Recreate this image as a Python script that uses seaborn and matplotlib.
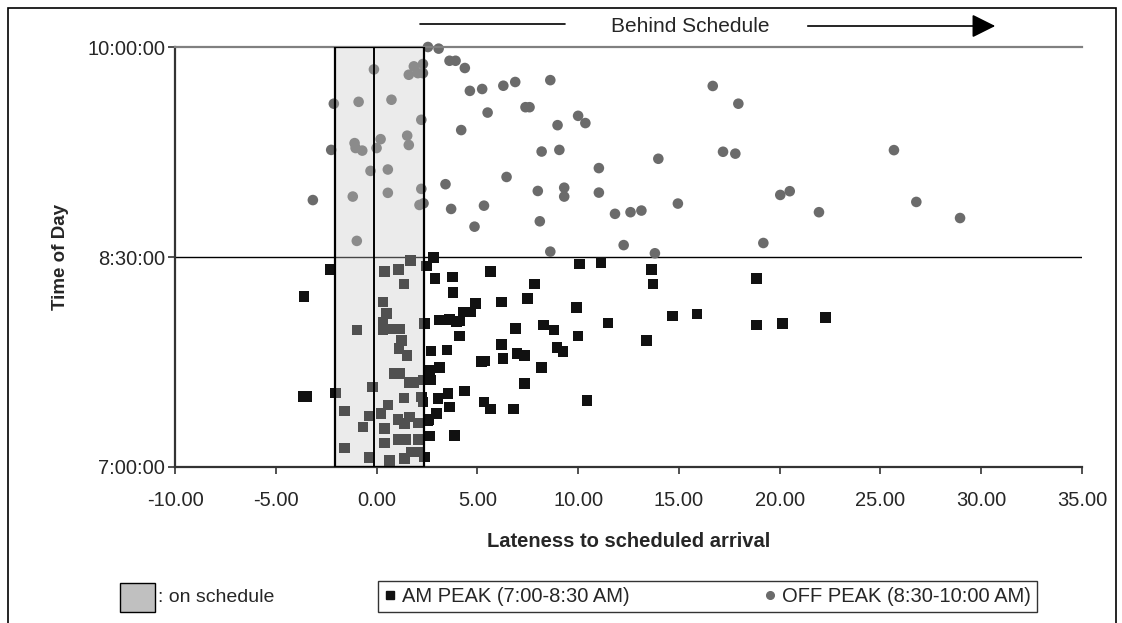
import matplotlib
matplotlib.use("Agg")
import matplotlib.pyplot as plt
import seaborn as sns
import pandas as pd
from matplotlib.patches import Rectangle, FancyArrowPatch
from matplotlib.lines import Line2D

# ---------------- data ----------------
# lateness (minutes) and time of day (minutes after 7:00)
am_lateness = [2.83, 2.47, 1.69, 0.40, 1.09, 1.36, -2.30, 0.31, 0.48, 0.31, 0.31, 0.73, 1.14, -0.98,
               2.38, 1.23, 1.11, 1.52, 0.89, 1.14, 1.60, 1.85, 2.30, 2.71, -0.21, -2.03, 1.36, 2.22,
               2.30, 0.56, -1.59, -0.38, 0.23, -0.68, 1.06, 1.64, 1.39, 2.05, 2.55, 0.40, 1.06, 1.44,
               2.05, 0.40, 2.63, -1.59, -0.38, 0.65, 1.39, 1.72, 2.13, 2.38, 3.87, 3.13, 2.63, 2.71,
               3.49, 3.13, 3.62, 3.96, 3.79, 2.91, 3.76, 3.04, 3.54, 3.62, 2.96, 5.66, 7.84, 6.19,
               7.48, 4.90, 4.32, 4.65, 4.12, 9.91, 11.48, 14.67, 6.90, 8.29, 8.80, 4.12, 10.00, 13.38,
               6.19, 5.20, 5.36, 6.27, 6.96, 7.35, 8.95, 9.25, 8.19, 4.37, 5.33, 5.66, 6.80, 7.33,
               10.44, 10.07, 11.13, 13.63, 13.71, 18.84, 15.90, 18.84, 20.13, 22.28, -3.59, -3.46,
               -3.62, 2.58]
am_time = [89.8, 86.1, 88.4, 83.7, 84.7, 78.5, 84.7, 70.8, 65.8, 62.2, 58.7, 59.1, 59.1, 58.7,
           61.5, 54.3, 50.8, 47.9, 40.1, 40.1, 36.1, 36.1, 37.2, 37.2, 34.3, 31.8, 29.6, 30.0,
           27.9, 26.5, 24.0, 21.9, 22.9, 17.2, 20.3, 21.5, 18.6, 18.9, 20.0, 16.5, 11.8, 11.8,
           11.8, 10.3, 13.2, 8.2, 4.0, 2.9, 3.6, 6.4, 6.4, 4.3, 13.4, 42.7, 41.5, 49.8,
           50.1, 63.0, 63.3, 62.2, 74.7, 80.9, 81.5, 29.4, 31.5, 25.8, 22.9, 83.7, 78.4, 70.8,
           72.3, 70.1, 66.5, 66.5, 62.5, 68.4, 61.8, 64.8, 59.4, 60.8, 58.7, 56.2, 56.2, 54.1,
           52.5, 45.1, 45.5, 46.5, 48.7, 47.9, 51.1, 49.4, 42.7, 32.6, 27.9, 24.8, 24.8, 35.8,
           28.6, 87.0, 87.6, 84.7, 78.4, 80.9, 65.5, 60.8, 61.5, 64.0, 73.0, 30.3,
           30.3, 20.3]

off_lateness = [2.55, 3.08, -0.13, 1.85, 2.30, 1.60, 2.05, 2.30, 3.62, 3.92, 4.38, -2.12, -0.89,
                0.74, 2.22, 4.63, 5.24, 6.29, 6.88, 8.62, 5.51, 7.39, 7.59, 4.20, 10.00, 10.36,
                8.98, -2.25, -1.09, -1.04, -0.71, 0.20, 0.00, 1.52, 1.60, -0.30, 0.56, 8.19, 9.07,
                11.03, 13.98, 3.42, -1.18, 0.56, 2.22, 2.13, 2.33, 3.70, -0.98, -3.16, 6.45, 8.00,
                9.31, 9.31, 11.03, 5.33, 4.86, 8.10, 11.83, 12.60, 13.14, 14.95, 8.62, 12.26,
                13.81, 16.68, 17.95, 17.19, 17.80, 25.67, 20.03, 20.50, 21.95, 26.78, 28.95, 19.19]
off_time = [180.0, 179.3, 170.4, 171.7, 172.7, 168.1, 168.8, 168.8, 174.1, 174.1, 171.0, 155.7, 156.5,
            157.4, 148.8, 161.2, 162.0, 163.4, 165.0, 165.8, 151.9, 154.2, 154.2, 144.4, 150.5, 147.4,
            146.5, 135.9, 138.8, 136.7, 135.6, 140.5, 136.7, 142.0, 138.0, 126.9, 127.5, 135.2, 135.9,
            128.1, 132.1, 121.2, 115.9, 117.5, 119.2, 112.3, 113.0, 110.6, 96.9, 114.4, 124.3, 118.3,
            119.7, 115.9, 117.6, 112.0, 103.0, 105.3, 108.5, 109.2, 109.9, 112.9, 92.3, 95.1,
            91.6, 163.3, 155.7, 135.1, 134.3, 135.8, 116.6, 118.2, 109.2, 113.6, 106.7, 96.0]

series_labels = ["AM PEAK (7:00-8:30 AM)", "OFF PEAK (8:30-10:00 AM)"]
x_ticks = [-10, -5, 0, 5, 10, 15, 20, 25, 30, 35]
y_ticks = [420, 510, 600]
y_tick_labels = ["7:00:00", "8:30:00", "10:00:00"]
on_schedule_range = (-2.05, 2.35)
on_time_line = -0.15

# ---------------- build table ----------------
df = pd.DataFrame({
    "lateness": am_lateness + off_lateness,
    "time": [420 + t for t in am_time] + [420 + t for t in off_time],
    "period": [series_labels[0]] * len(am_lateness) + [series_labels[1]] * len(off_lateness),
})

sns.set_style("white")
plt.rcParams["font.family"] = ["Liberation Sans", "DejaVu Sans"]

W, H = 1122, 623
fig = plt.figure(figsize=(W / 100, H / 100), dpi=100)
ax = fig.add_axes([175 / W, (H - 467) / H, (1082 - 175) / W, (467 - 47) / H])

colors = {series_labels[0]: "#111111", series_labels[1]: "#6b6b6b"}
markers = {series_labels[0]: "s", series_labels[1]: "o"}
sns.scatterplot(data=df, x="lateness", y="time", hue="period", style="period",
                palette=colors, markers=markers, s=58, linewidth=0, legend=False,
                ax=ax, clip_on=False, zorder=2)

# on-schedule box (drawn over points, like the original)
x0, x1 = on_schedule_range
ax.add_patch(Rectangle((x0, 420), x1 - x0, 180, facecolor=(0.78, 0.78, 0.78, 0.35),
                       edgecolor="black", lw=1.6, zorder=3))
ax.plot([on_time_line, on_time_line], [420, 600], color="black", lw=1.4, zorder=3)

# 8:30 line
ax.axhline(510, color="black", lw=1.0, zorder=1)

ax.set_xlim(-10, 35)
ax.set_ylim(420, 600)
ax.set_xticks(x_ticks)
ax.set_xticklabels([f"{v:.2f}" for v in x_ticks])
ax.set_yticks(y_ticks)
ax.set_yticklabels(y_tick_labels)
ax.tick_params(axis="both", direction="out", length=5, width=1.2, color="#333333",
               labelsize=14.5, bottom=True, left=True)
ax.tick_params(axis="x", pad=12)
ax.tick_params(axis="y", pad=2)

for side in ["left", "bottom"]:
    ax.spines[side].set_color("#333333")
    ax.spines[side].set_linewidth(1.6)
ax.spines["top"].set_color("#808080")
ax.spines["top"].set_linewidth(1.6)
ax.spines["right"].set_visible(False)

ax.set_xlabel("Lateness to scheduled arrival", fontsize=14.5, fontweight="bold", labelpad=16)
ax.set_ylabel("Time of Day", fontsize=13.5, fontweight="bold", labelpad=13)

# "Behind Schedule" annotation above the plot
fig.add_artist(Line2D([420 / W, 565 / W], [1 - 24 / H, 1 - 24 / H], color="black", lw=1.2))
fig.text(690 / W, 1 - 27 / H, "Behind Schedule", ha="center", va="center", fontsize=15)
fig.add_artist(FancyArrowPatch(
    (805 / W, 1 - 26 / H), (998 / W, 1 - 26 / H), transform=fig.transFigure,
    arrowstyle="-|>,head_length=9,head_width=4.5", color="black", lw=1.2, mutation_scale=1.6))

# legend pieces at the bottom
fig.add_artist(Rectangle((120 / W, 1 - 612 / H), 35 / W, 29 / H, transform=fig.transFigure,
                         facecolor="#c0c0c0", edgecolor="black", lw=1.0))
fig.text(158 / W, 1 - 598 / H, ": on schedule", ha="left", va="center", fontsize=14)

handles = [Line2D([], [], marker="s", color="#111111", linestyle="none", markersize=5.5),
           Line2D([], [], marker="o", color="#6b6b6b", linestyle="none", markersize=5.5)]
leg = fig.legend(handles, series_labels, loc="center", ncol=2, mode="expand",
                 bbox_to_anchor=(378 / W, 1 - 612 / H, (1037 - 378) / W, 31 / H),
                 fontsize=14.5, frameon=True, borderaxespad=0,
                 fancybox=False, edgecolor="black", handlelength=0.6, handletextpad=0.3,
                 borderpad=0.3)
leg.get_frame().set_linewidth(1.0)

# outer chart border
fig.add_artist(Rectangle((8 / W, -0.02), (1116 - 8) / W, 1 - 8 / H + 0.02,
                         transform=fig.transFigure, fill=False, edgecolor="black", lw=1.2))

fig.savefig("out.png", dpi=100)
